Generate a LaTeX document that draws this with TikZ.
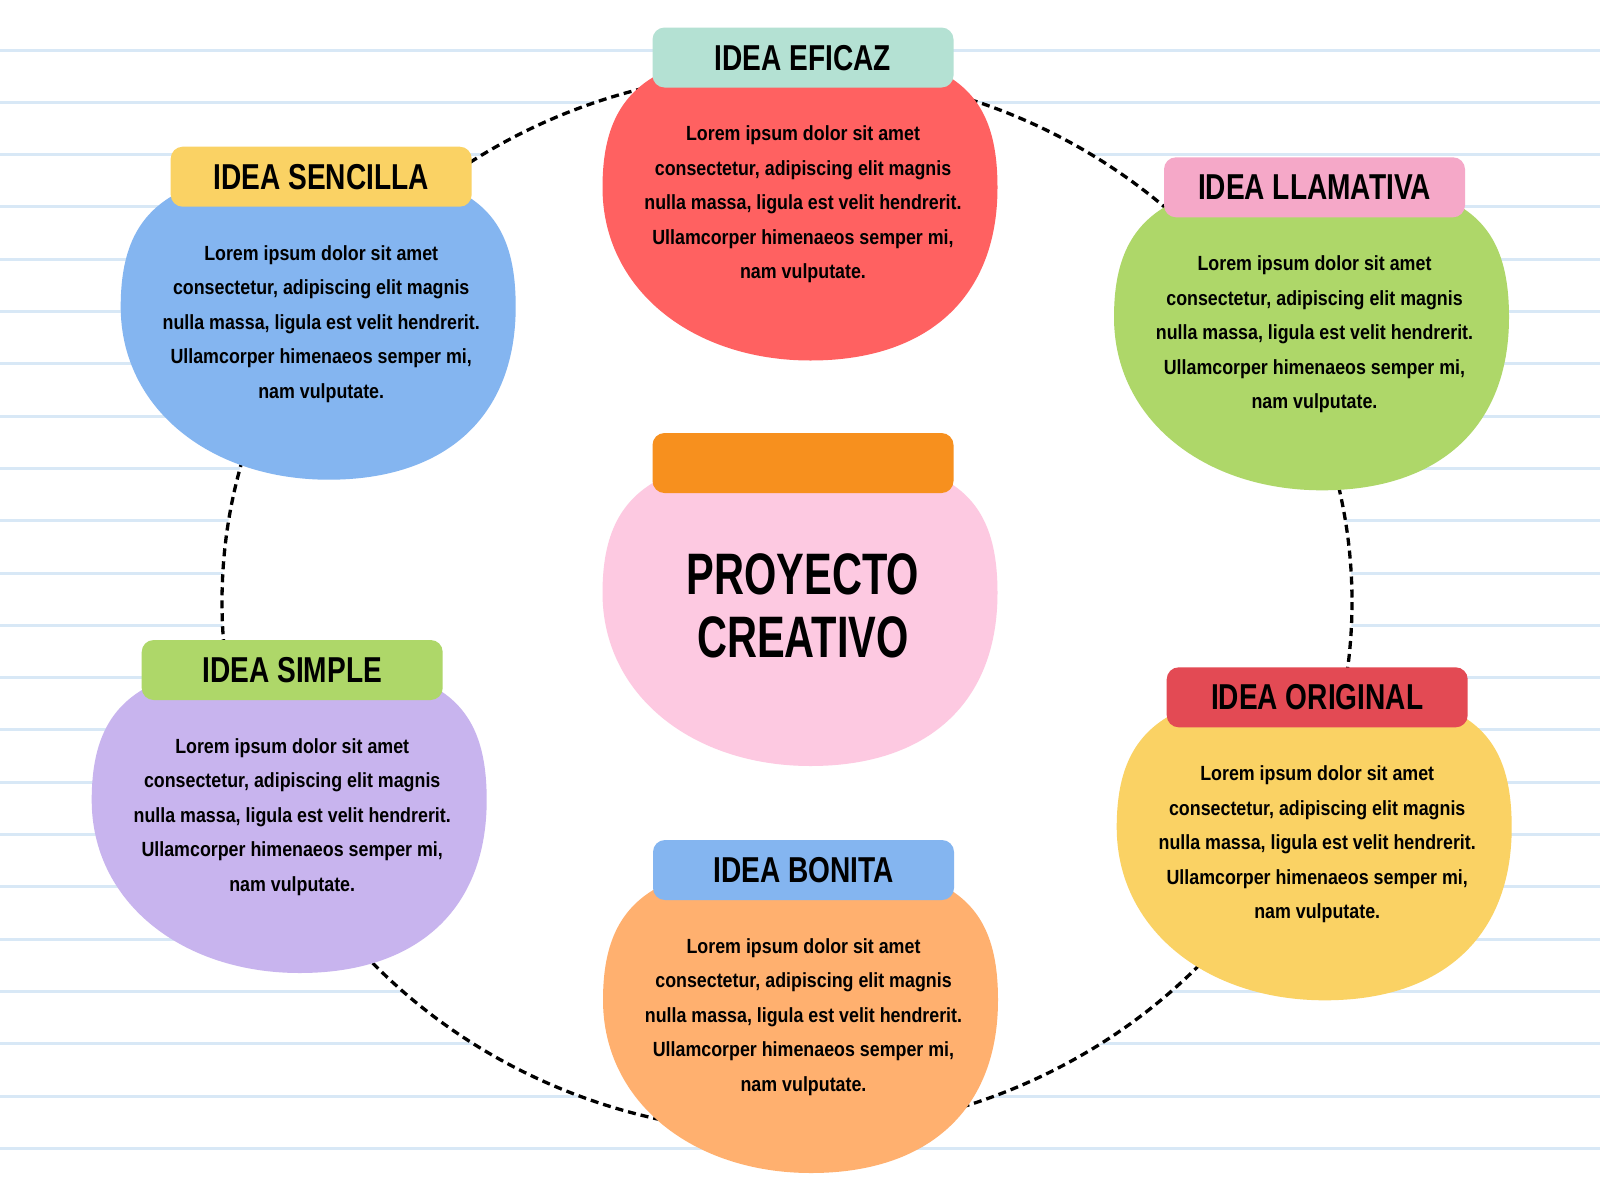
\documentclass[tikz,border=0pt]{standalone}
\usepackage{fontspec}
\newfontfamily\bodyf{Liberation Sans}[FakeStretch=0.87]
\newfontfamily\ttlf{Liberation Sans}[FakeStretch=0.78]
\newfontfamily\bigf{Liberation Sans}[FakeStretch=0.71]
\definecolor{rulec}{HTML}{D8E8F6}
\definecolor{cRed}{HTML}{FF6161}
\definecolor{cMint}{HTML}{B4E1D3}
\definecolor{cYellow}{HTML}{FAD264}
\definecolor{cBlue}{HTML}{84B5F0}
\definecolor{cPinkT}{HTML}{F5A8C8}
\definecolor{cGreen}{HTML}{AED769}
\definecolor{cLav}{HTML}{C8B4EE}
\definecolor{cRedT}{HTML}{E34A54}
\definecolor{cOrange}{HTML}{FFB06F}
\definecolor{cOrangeT}{HTML}{F7901E}
\definecolor{cPink}{HTML}{FDC9E1}
\tikzset{
  rule/.style={draw=rulec, line width=3pt},
  ring/.style={draw=black, fill=white, line width=3.3pt, dash pattern=on 8pt off 5pt},
  tabbox/.style={rounded corners=12pt},
  ttl/.style={inner sep=0pt, anchor=base, font=\ttlf\bfseries\fontsize{36}{40}\selectfont},
  body/.style={inner sep=0pt, align=center, font=\bodyf\bfseries\fontsize{20.5}{34.5}\selectfont},
  big/.style={inner sep=0pt, align=center, font=\bigf\bfseries\fontsize{58.5}{63}\selectfont}
}
% #1,#2: tab top-left; #3 blob colour; #4 tab colour; #5 name
\newcommand\ideablob[5]{%
  \begin{scope}[shift={(#1,#2)}]
    \fill[#3] (150,22) .. controls (300,22) and (345,62) .. (345,160)
      .. controls (345,270) and (275,333) .. (158,333)
      .. controls (40,333) and (-50,262) .. (-50,160)
      .. controls (-50,62) and (0,22) .. (150,22) -- cycle;
    \fill[#4, tabbox] (0,0) rectangle (301,60);
    \coordinate (#5-tab) at (150.5,42.5);
    \coordinate (#5-txt) at (150.5,177);
    \coordinate (#5-mid) at (150.5,172.5);
  \end{scope}}
\newcommand\lorem{Lorem ipsum dolor sit amet\\consectetur, adipiscing elit magnis\\nulla massa, ligula est velit hendrerit.\\Ullamcorper himenaeos semper mi,\\nam vulputate.}
\begin{document}
\begin{tikzpicture}[x=1pt, y=-1pt]
\useasboundingbox (0,0) rectangle (1600,1200);
\fill[white] (0,0) rectangle (1600,1200);
\foreach \k in {0,...,21} {
  \draw[rule] (0,{50+52.3*\k}) -- (1600,{50+52.3*\k});
}
\draw[ring] (787,602) ellipse [x radius=565, y radius=531];

\ideablob{652.5}{27.5}{cRed}{cMint}{ef}
\ideablob{170.7}{146.7}{cBlue}{cYellow}{se}
\ideablob{1164}{157.3}{cGreen}{cPinkT}{ll}
\ideablob{141.7}{640}{cLav}{cGreen}{si}
\ideablob{1166.7}{667.3}{cYellow}{cRedT}{or}
\ideablob{653}{840}{cOrange}{cBlue}{bo}
\ideablob{652.5}{433}{cPink}{cOrangeT}{ce}

\node[ttl] (efT) at (ef-tab) {IDEA EFICAZ};
\node[ttl] (seT) at (se-tab) {IDEA SENCILLA};
\node[ttl] (llT) at (ll-tab) {IDEA LLAMATIVA};
\node[ttl] (siT) at (si-tab) {IDEA SIMPLE};
\node[ttl] (orT) at (or-tab) {IDEA ORIGINAL};
\node[ttl] (boT) at (bo-tab) {IDEA BONITA};

\node[body] (efB) at (ef-txt) {\lorem};
\node[body] (seB) at (se-txt) {\lorem};
\node[body] (llB) at (ll-txt) {\lorem};
\node[body] (siB) at (si-txt) {\lorem};
\node[body] (orB) at (or-txt) {\lorem};
\node[body] (boB) at (bo-txt) {\lorem};

\node[big] (ceB) at (ce-mid) {PROYECTO\\CREATIVO};
\end{tikzpicture}
\end{document}
